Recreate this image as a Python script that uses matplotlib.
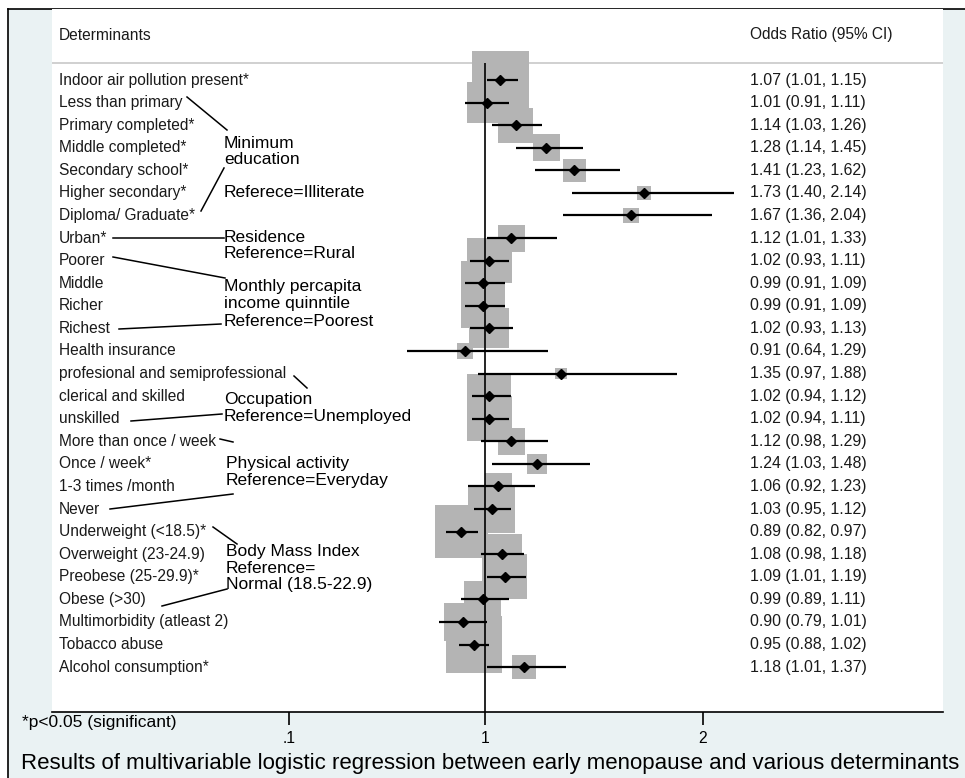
import numpy as np
import matplotlib
matplotlib.use('Agg')
import matplotlib.pyplot as plt
from matplotlib.patches import Rectangle
from matplotlib.lines import Line2D
import matplotlib.transforms as mtransforms

plt.rcParams['font.family'] = ['Liberation Sans', 'DejaVu Sans']

# data
labels = ['Indoor air pollution present*', 'Less than primary', 'Primary completed*',
          'Middle completed*', 'Secondary school*', 'Higher secondary*', 'Diploma/ Graduate*',
          'Urban*', 'Poorer', 'Middle', 'Richer', 'Richest', 'Health insurance',
          'profesional and semiprofessional', 'clerical and skilled', 'unskilled',
          'More than once / week', 'Once / week*', '1-3 times /month', 'Never',
          'Underweight (<18.5)*', 'Overweight (23-24.9)', 'Preobese (25-29.9)*', 'Obese (>30)',
          'Multimorbidity (atleast 2)', 'Tobacco abuse', 'Alcohol consumption*']
odds = [1.07, 1.01, 1.14, 1.28, 1.41, 1.73, 1.67, 1.12, 1.02, 0.99, 0.99, 1.02, 0.91, 1.35,
        1.02, 1.02, 1.12, 1.24, 1.06, 1.03, 0.89, 1.08, 1.09, 0.99, 0.90, 0.95, 1.18]
ci_low = [1.01, 0.91, 1.03, 1.14, 1.23, 1.40, 1.36, 1.01, 0.93, 0.91, 0.91, 0.93, 0.64, 0.97,
          0.94, 0.94, 0.98, 1.03, 0.92, 0.95, 0.82, 0.98, 1.01, 0.89, 0.79, 0.88, 1.01]
ci_high = [1.15, 1.11, 1.26, 1.45, 1.62, 2.14, 2.04, 1.33, 1.11, 1.09, 1.09, 1.13, 1.29, 1.88,
           1.12, 1.11, 1.29, 1.48, 1.23, 1.12, 0.97, 1.18, 1.19, 1.11, 1.01, 1.02, 1.37]
# relative weights (box area)
weights = [32.5, 16.8, 12.3, 7.3, 5.3, 1.8, 2.3, 7.3, 20.3, 19.4, 19.4, 16.0, 2.6, 1.4,
           19.4, 20.3, 7.3, 4.0, 7.3, 22.1, 28.1, 16.0, 20.3, 13.7, 14.4, 31.4, 5.8]
xticks = [0.1, 1, 2]
xtick_labels = ['.1', '1', '2']

# group notes and their connector lines (image pixels)
group_text = [('Minimum', 224, 148), ('education', 224, 164), ('Referece=Illiterate', 224, 197),
              ('Residence', 224, 242), ('Reference=Rural', 224, 258),
              ('Monthly percapita', 224, 291), ('income quinntile', 224, 308),
              ('Reference=Poorest', 224, 326),
              ('Occupation', 224, 404), ('Reference=Unemployed', 224, 421),
              ('Physical activity', 226, 468), ('Reference=Everyday', 226, 485),
              ('Body Mass Index', 226, 556), ('Reference=', 226, 573),
              ('Normal (18.5-22.9)', 226, 589)]
group_lines = [((187, 97), (227, 130)), ((201, 211), (224, 168)), ((113, 238), (224, 238)),
               ((113, 257), (225, 278)), ((119, 329), (221, 324)), ((294, 376), (307, 388)),
               ((131, 421), (222, 414)), ((220, 439), (233, 442)), ((110, 509), (233, 494)),
               ((213, 527), (237, 544)), ((162, 606), (227, 589))]

W, H = 965, 778
BG = '#eaf2f3'


def fpx(x, y):
    return x / W, 1 - y / H


fig = plt.figure(figsize=(W / 100, H / 100), dpi=100, facecolor='white')
fig.add_artist(Rectangle(fpx(8, H), 1, (H - 9) / H, transform=fig.transFigure,
                         facecolor=BG, edgecolor='none', zorder=-2))
fig.add_artist(Line2D([8 / W, 8 / W], [0, 1 - 9 / H], transform=fig.transFigure, color='black', lw=1.2, zorder=-1))
fig.add_artist(Line2D([8 / W, 1], [1 - 9 / H, 1 - 9 / H], transform=fig.transFigure, color='black', lw=1.2, zorder=-1))

ax_l, ax_r, ax_t, ax_b = 52, 943, 9, 712
ax = fig.add_axes([ax_l / W, 1 - ax_b / H, (ax_r - ax_l) / W, (ax_b - ax_t) / H])
ax.set_facecolor('white')

row0, step = 80, 22.58
rows = np.arange(len(labels))
ax.set_ylim((ax_b - row0) / step, (ax_t - row0) / step)
px_per_unit = 218
ax.set_xlim(1 - (485 - ax_l) / px_per_unit, 1 + (ax_r - 485) / px_per_unit)

header_row = (62.7 - row0) / step
ax.axhline(header_row, color='#c8c8c8', lw=1.2, zorder=0)

side_px = 10 * np.sqrt(weights)
ax.scatter(odds, rows, marker='s', s=(side_px * 0.72) ** 2, color='#b4b4b4', linewidths=0, zorder=1)
ax.vlines(1, header_row, (ax_b - row0) / step, color='black', lw=1.2, zorder=2)
ax.hlines(rows, ci_low, ci_high, color='black', lw=1.6, zorder=3)
ax.plot(odds, rows, 'D', ms=4.8, color='black', zorder=4)

blend = mtransforms.blended_transform_factory(ax.transAxes, ax.transData)
lab_x = (59 - ax_l) / (ax_r - ax_l)
or_x = (750 - ax_l) / (ax_r - ax_l)
hdr_row = (35 - row0) / step
txt_col = '#1a1a1a'
ax.text(lab_x, hdr_row, 'Determinants', transform=blend, fontsize=11.2, va='center', color=txt_col)
ax.text(or_x, hdr_row, 'Odds Ratio (95% CI)', transform=blend, fontsize=11.2, va='center', color=txt_col)
for i, lab in enumerate(labels):
    ax.text(lab_x, i, lab, transform=blend, fontsize=11.2, va='center', color=txt_col)
    ax.text(or_x, i, f'{odds[i]:.2f} ({ci_low[i]:.2f}, {ci_high[i]:.2f})', transform=blend,
            fontsize=11.4, va='center', color=txt_col)

for s in ['top', 'left', 'right']:
    ax.spines[s].set_visible(False)
ax.spines['bottom'].set_linewidth(1.2)
ax.set_yticks([])
ax.set_xticks(xticks)
ax.set_xticklabels(xtick_labels, fontsize=11.3)
ax.tick_params(axis='x', length=9.4, width=1.2, pad=4)

for txt, x, y in group_text:
    fig.text(*fpx(x, y), txt, fontsize=12.5, va='baseline', ha='left')
for (x1, y1), (x2, y2) in group_lines:
    p1, p2 = fpx(x1, y1), fpx(x2, y2)
    fig.add_artist(Line2D([p1[0], p2[0]], [p1[1], p2[1]], transform=fig.transFigure, color='black', lw=1.1))

fig.text(*fpx(22, 722), '*p<0.05 (significant)', fontsize=12.5, va='center')
fig.text(*fpx(21, 763), 'Results of multivariable logistic regression between early menopause and various determinants',
         fontsize=16.0, va='center')

fig.savefig('out.png', dpi=100, facecolor=fig.get_facecolor())
